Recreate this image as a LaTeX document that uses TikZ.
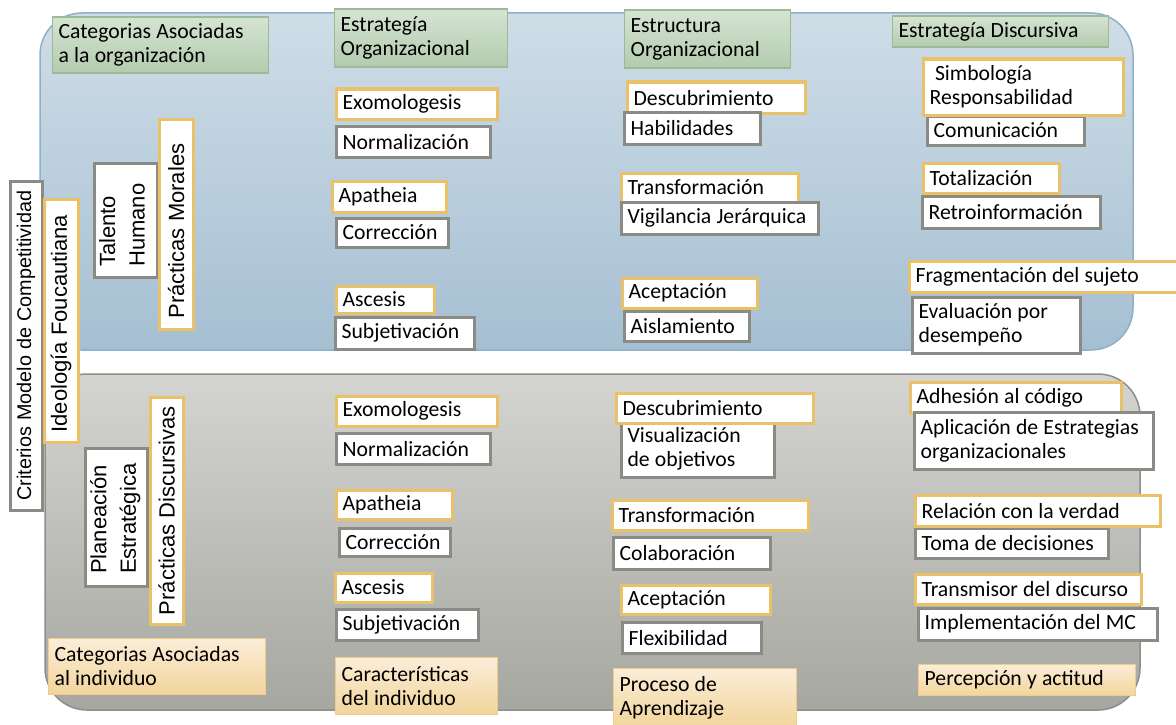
\documentclass[tikz,border=0pt]{standalone}
\usepackage{fontspec}
\setmainfont{Carlito}
\newfontfamily\rotfont{Liberation Sans}

\definecolor{bluetop}{HTML}{CFDDE7}
\definecolor{bluebot}{HTML}{A5BFD2}
\definecolor{bluebord}{HTML}{8FB0C8}
\definecolor{graytop}{HTML}{D4D4D1}
\definecolor{graybot}{HTML}{A7A7A1}
\definecolor{graybord}{HTML}{8E8E8A}
\definecolor{ybord}{HTML}{E9C169}
\definecolor{gbord}{HTML}{8B8B86}
\definecolor{htop}{HTML}{D5E4D2}
\definecolor{hbot}{HTML}{B3CBAE}
\definecolor{hbord}{HTML}{9BBA96}
\definecolor{ptop}{HTML}{FBEDD8}
\definecolor{pbot}{HTML}{F2D59C}
\definecolor{pbord}{HTML}{F0CC8C}

\tikzset{
  panel/.style={line width=1.5pt, rounded corners=42pt, inner sep=0pt},
  box/.style={draw, line width=3.2pt, fill=white, inner xsep=6.5pt, inner ysep=0pt,
    align=left, text=black, font=\fontsize{21.7}{24}\selectfont,
    execute at begin node={\spaceskip=5.2pt plus 1pt\relax}},
  ybox/.style={box, draw=ybord},
  gbox/.style={box, draw=gbord},
  hbox/.style={box, line width=1.3pt, draw=hbord, top color=htop, bottom color=hbot},
  pbox/.style={box, line width=1.3pt, draw=pbord, top color=ptop, bottom color=pbot},
  vtext/.style={rotate=90, inner sep=0pt, align=left, text=black,
    font=\rotfont\fontsize{22}{29.5}\selectfont,
    execute at begin node={\spaceskip=6.1pt plus 1pt\relax}},
}

% box given by its outer corners: style, name, x1, y1, x2, y2, text
\newcommand\boxat[7]{%
  \node[#1, anchor=north west, minimum width={#5-#3-3}, minimum height={#6-#4-3},
        text width={#5-#3-3-13}] (#2) at ({#3+1.5},{#4+1.5}) {#7};}

\begin{document}
\begin{tikzpicture}[x=1pt, y=-1pt]
\useasboundingbox (0,0) rectangle (1176,725);
\fill[white] (0,0) rectangle (1176,725);

% the two panels
\node[panel, draw=bluebord, top color=bluetop, bottom color=bluebot,
      minimum width=1093, minimum height=337] (orgpanel) at (586.5,181.5) {};
\node[panel, draw=graybord, top color=graytop, bottom color=graybot,
      minimum width=1095, minimum height=336] (indpanel) at (592.5,542) {};

% vertical labels on the left
\boxat{gbox}{crit}{7}{178}{42}{510}{}
\node[vtext, font=\rotfont\fontsize{19.8}{24}\selectfont] (critT) at (crit.center) {Criterios Modelo de Competitividad};
\boxat{ybox}{ideo}{41}{196}{78}{442}{}
\node[vtext] (ideoT) at ([yshift=-3pt]ideo.center) {Ideología Foucautiana};
\boxat{gbox}{tal}{91}{160}{157}{277}{}
\node[vtext, anchor=north west] (talT) at (99,267) {Talento\\Humano};
\boxat{ybox}{pm}{156}{116}{193}{329}{}
\node[vtext] (pmT) at ([yshift=-7pt]pm.center) {Prácticas Morales};
\boxat{gbox}{plan}{82}{445}{147}{586}{}
\node[vtext, anchor=north west] (planT) at (90,574) {Planeación\\Estratégica};
\boxat{ybox}{pd}{147}{394}{183}{624}{}
\node[vtext] (pdT) at (pd.center) {Prácticas Discursivas};

% column headers
\boxat{hbox}{hA}{50}{15}{269}{74}{Categorias Asociadas\\a la organización}
\boxat{hbox}{hB}{332}{7}{508}{68}{Estrategía\\Organizacional}
\boxat{hbox}{hC}{622}{8}{791}{69}{Estructura\\Organizacional}
\boxat{hbox}{hD}{890}{14}{1109}{48}{Estrategía Discursiva}

% organizational strategy
\boxat{ybox}{exo1}{333}{86}{497}{119}{Exomologesis}
\boxat{gbox}{nor1}{333}{123}{490}{157}{Normalización}
\boxat{ybox}{apa1}{329}{178}{446}{212}{Apatheia}
\boxat{gbox}{cor1}{333}{215}{448}{247}{Corrección}
\boxat{ybox}{asc1}{333}{283}{434}{313}{Ascesis}
\boxat{gbox}{sub1}{332}{314}{474}{349}{Subjetivación}

% organizational structure
\boxat{ybox}{des1}{624}{79}{805}{113}{Descubrimiento}
\boxat{gbox}{hab}{621}{109}{760}{144}{Habilidades}
\boxat{ybox}{tra1}{618}{170}{798}{202}{Transformación}
\boxat{gbox}{vig}{618}{199}{818}{234}{Vigilancia Jerárquica}
\boxat{ybox}{ace1}{619}{275}{757}{308}{Aceptación}
\boxat{gbox}{ais}{621}{308}{749}{341}{Aislamiento}

% discursive strategy
\boxat{gbox}{com}{924}{113}{1084}{145}{Comunicación}
\boxat{ybox}{sim}{920}{56}{1123}{115}{\hspace*{0.25em}Simbología\\Responsabilidad}
\boxat{ybox}{tot}{920}{160}{1059}{193}{Totalización}
\boxat{gbox}{ret}{919}{193}{1100}{228}{Retroinformación}
\boxat{ybox}{fra}{906}{258}{1185}{292}{Fragmentación del sujeto}
\boxat{gbox}{eva}{909}{294}{1080}{353}{Evaluación por\\desempeño}

% individual: characteristics
\boxat{ybox}{exo2}{333}{393}{497}{426}{Exomologesis}
\boxat{gbox}{nor2}{333}{430}{490}{464}{Normalización}
\boxat{ybox}{apa2}{333}{487}{452}{519}{Apatheia}
\boxat{gbox}{cor2}{336}{525}{450}{556}{Corrección}
\boxat{ybox}{asc2}{332}{570}{432}{602}{Ascesis}
\boxat{gbox}{sub2}{333}{606}{478}{640}{Subjetivación}

% individual: learning process
\boxat{gbox}{vis}{618}{418}{774}{477}{Visualización\\de objetivos}
\boxat{ybox}{des2}{613}{390}{813}{423}{Descubrimiento}
\boxat{ybox}{tra2}{609}{497}{808}{530}{Transformación}
\boxat{gbox}{col}{610}{534}{770}{569}{Colaboración}
\boxat{ybox}{ace2}{618}{582}{770}{614}{Aceptación}
\boxat{gbox}{fle}{619}{619}{761}{653}{Flexibilidad}

% individual: perception and attitude
\boxat{ybox}{adh}{907}{379}{1121}{413}{Adhesión al código}
\boxat{gbox}{apl}{911}{409}{1153}{469}{Aplicación de Estrategias\\organizacionales}
\boxat{gbox}{tom}{912}{525}{1108}{558}{Toma de decisiones}
\boxat{ybox}{rel}{912}{492}{1160}{526}{Relación con la verdad}
\boxat{ybox}{trm}{912}{571}{1141}{604}{Transmisor del discurso}
\boxat{gbox}{imp}{915}{605}{1157}{640}{Implementación del MC}

% footer labels of the lower panel
\boxat{pbox}{hE}{46}{636}{266}{695}{Categorias Asociadas\\al individuo}
\boxat{pbox}{hF}{333}{655}{498}{715}{Características\\del individuo}
\boxat{pbox}{hG}{611}{666}{797}{728}{Proceso de\\Aprendizaje}
\boxat{pbox}{hH}{916}{662}{1136}{696}{Percepción y actitud}
\end{tikzpicture}
\end{document}
